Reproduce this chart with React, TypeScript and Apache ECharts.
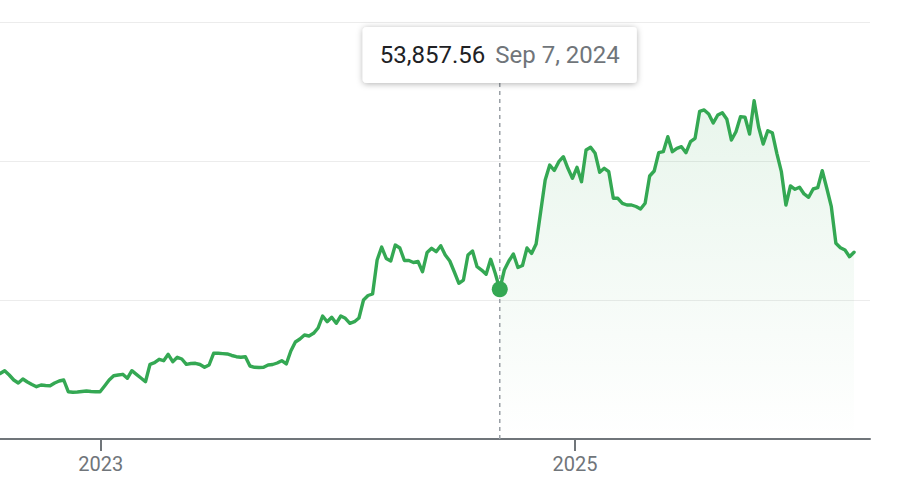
import React, { useEffect, useRef } from "react";
import * as echarts from "echarts";

// ---- data (weekly closes) ----
const FIRST_WEEK = "2022-07-23"; // first weekly point (Saturday)
const WEEK_DAYS = 7;

const VALUES_2022 = [
  24280, 23560, 24570, 23020, 21220, 20140, 21580, 20500, 19600, 18810, 19420, 19250,
  19170, 20140, 20860, 21220, 17010, 16800, 16910, 17090, 17270, 17090, 17010, 17010,
];
const VALUES_2023 = [
  19070, 21220, 22770, 23020, 23270, 21830, 24570, 23270, 21940, 20610, 26870, 27450,
  28670, 28170, 30470, 27810, 29390, 28780, 26870, 27160, 27230, 26800, 25790, 26620,
  30830, 30830, 30720, 30580, 30040, 29600, 29390, 29600, 26260, 25790, 25720, 25790,
  26620, 26800, 27340, 28170, 26980, 31650, 34890, 35970, 37410, 37050, 38020, 39930,
  44240, 42190, 43780, 41620,
];
const VALUES_2024 = [
  44240, 43420, 41620, 42190, 43530, 50000, 51620, 52160, 64390, 69060, 64930, 64030,
  69780, 68710, 64210, 64210, 63490, 63850, 60180, 67090, 68600, 67370, 69530, 66190,
  64030, 60070, 56010, 57190, 66190, 67630, 61980, 60790, 59240, 64640, 59600, 53857.56,
  60790, 64030, 66550, 61690, 62410, 68710, 66730, 70140, 81650, 93170, 98560, 96580,
  99750, 101550, 97370, 93780,
];
const VALUES_2025 = [
  97730, 92550, 103960, 104930, 102770, 95940, 97370, 96150, 86580, 86580, 84780, 84170,
  84170, 83630, 82730, 84780, 94600, 96400, 102990, 103350, 108740, 103350, 104570, 105140,
  102990, 106940, 108170, 117810, 118350, 116910, 113670, 116550, 117370, 115000, 107550, 110540,
  115940, 115720, 109710, 121690, 112120, 106120, 110900, 110180, 102770, 96150, 84170, 91010,
  89820, 90540, 88130, 86940,
];
const VALUES_2026 = [89930, 90400, 96510, 90180, 83560, 70400, 68810, 67990, 65580, 67160];

// hovered point
const HOVER_DATE = "2024-09-07";
const HOVER_VALUE = 53857.56;
const HOVER_VALUE_LABEL = "53,857.56";
const HOVER_DATE_LABEL = "Sep 7, 2024";

// axes
const X_MIN = "2022-07-29T19:00:00Z";
const X_MAX = "2026-03-31T14:00:00Z";
const X_TICK_YEARS = [2023, 2025];
const Y_MIN = 0;
const Y_MAX = 150000;
const Y_INTERVAL = 50000;

const GREEN = "#34a853";
const FONT = "Roboto, 'Noto Sans', Arial, sans-serif";

export default function App() {
  const ref = useRef<HTMLDivElement>(null);

  useEffect(() => {
    document.body.style.margin = "0";
    if (!ref.current) return;
    const chart = echarts.init(ref.current, undefined, { renderer: "svg" });

    const allValues = [...VALUES_2022, ...VALUES_2023, ...VALUES_2024, ...VALUES_2025, ...VALUES_2026];
    const start = Date.parse(FIRST_WEEK + "T00:00:00Z");
    const weekMs = WEEK_DAYS * 86400000;
    const data = allValues.map((v, i) => [start + i * weekMs, v]);
    const hoverTime = Date.parse(HOVER_DATE + "T00:00:00Z");
    const hoverIdx = data.findIndex((d) => d[0] === hoverTime);
    const areaData = data.slice(hoverIdx);
    const tickValues = X_TICK_YEARS.map((y) => Date.UTC(y, 0, 1));

    chart.setOption({
      animation: false,
      textStyle: { fontFamily: FONT },
      grid: { left: 0, right: 28, top: 22, bottom: 61, containLabel: false },
      xAxis: {
        type: "value",
        min: Date.parse(X_MIN),
        max: Date.parse(X_MAX),
        axisLine: { show: true, lineStyle: { color: "#70757a", width: 2 } },
        axisTick: {
          show: true,
          customValues: tickValues,
          length: 12,
          lineStyle: { color: "#70757a", width: 2 },
        },
        axisLabel: {
          show: true,
          customValues: tickValues,
          formatter: (val: number) => String(new Date(val).getUTCFullYear()),
          color: "#70757a",
          fontSize: 20,
          fontFamily: FONT,
          margin: 15,
        },
        splitLine: { show: false },
      },
      yAxis: {
        type: "value",
        min: Y_MIN,
        max: Y_MAX,
        interval: Y_INTERVAL,
        axisLine: { show: false },
        axisTick: { show: false },
        axisLabel: { show: false },
        splitLine: { show: true, lineStyle: { color: "#ececec", width: 1 } },
      },
      series: [
        {
          type: "line",
          data: areaData,
          symbol: "none",
          silent: true,
          z: 1,
          lineStyle: { width: 0, opacity: 0 },
          areaStyle: {
            color: new echarts.graphic.LinearGradient(0, 0, 0, 1, [
              { offset: 0, color: "rgba(52,168,83,0.16)" },
              { offset: 1, color: "rgba(52,168,83,0)" },
            ]),
          },
        },
        {
          type: "line",
          data,
          symbol: "none",
          silent: true,
          z: 3,
          lineStyle: { color: GREEN, width: 3.4, join: "round", cap: "round" },
        },
        {
          type: "scatter",
          data: [[hoverTime, HOVER_VALUE]],
          symbol: "circle",
          symbolSize: 16,
          silent: true,
          z: 5,
          itemStyle: { color: GREEN, opacity: 1 },
        },
      ],
    });

    const [px] = chart.convertToPixel({ xAxisIndex: 0, yAxisIndex: 0 }, [hoverTime, HOVER_VALUE]) as number[];
    const bottomPx = chart.convertToPixel({ yAxisIndex: 0 }, Y_MIN) as number;
    const boxW = 274;
    const boxH = 56;
    const boxTop = 27;
    const boxLeft = px - boxW / 2;

    chart.setOption({
      graphic: [
        {
          type: "line",
          z: 2,
          silent: true,
          shape: { x1: px, y1: boxTop + boxH, x2: px, y2: bottomPx },
          style: { stroke: "#9aa0a6", lineWidth: 1.5, lineDash: [4, 4] },
        },
        {
          type: "rect",
          z: 100,
          silent: true,
          shape: { x: boxLeft, y: boxTop, width: boxW, height: boxH, r: 4 },
          style: {
            fill: "#ffffff",
            shadowBlur: 6,
            shadowOffsetY: 1,
            shadowColor: "rgba(0,0,0,0.3)",
          },
        },
        {
          type: "text",
          z: 101,
          silent: true,
          x: boxLeft + 17,
          y: boxTop + boxH / 2,
          style: {
            text: HOVER_VALUE_LABEL,
            fill: "#202124",
            fontSize: 24,
            fontFamily: FONT,
            align: "left",
            verticalAlign: "middle",
          },
        },
        {
          type: "text",
          z: 101,
          silent: true,
          x: boxLeft + boxW - 17,
          y: boxTop + boxH / 2,
          style: {
            text: HOVER_DATE_LABEL,
            fill: "#70757a",
            fontSize: 24,
            fontFamily: FONT,
            align: "right",
            verticalAlign: "middle",
          },
        },
      ],
    });

    return () => chart.dispose();
  }, []);

  return <div ref={ref} style={{ width: 898, height: 500 }} />;
}
